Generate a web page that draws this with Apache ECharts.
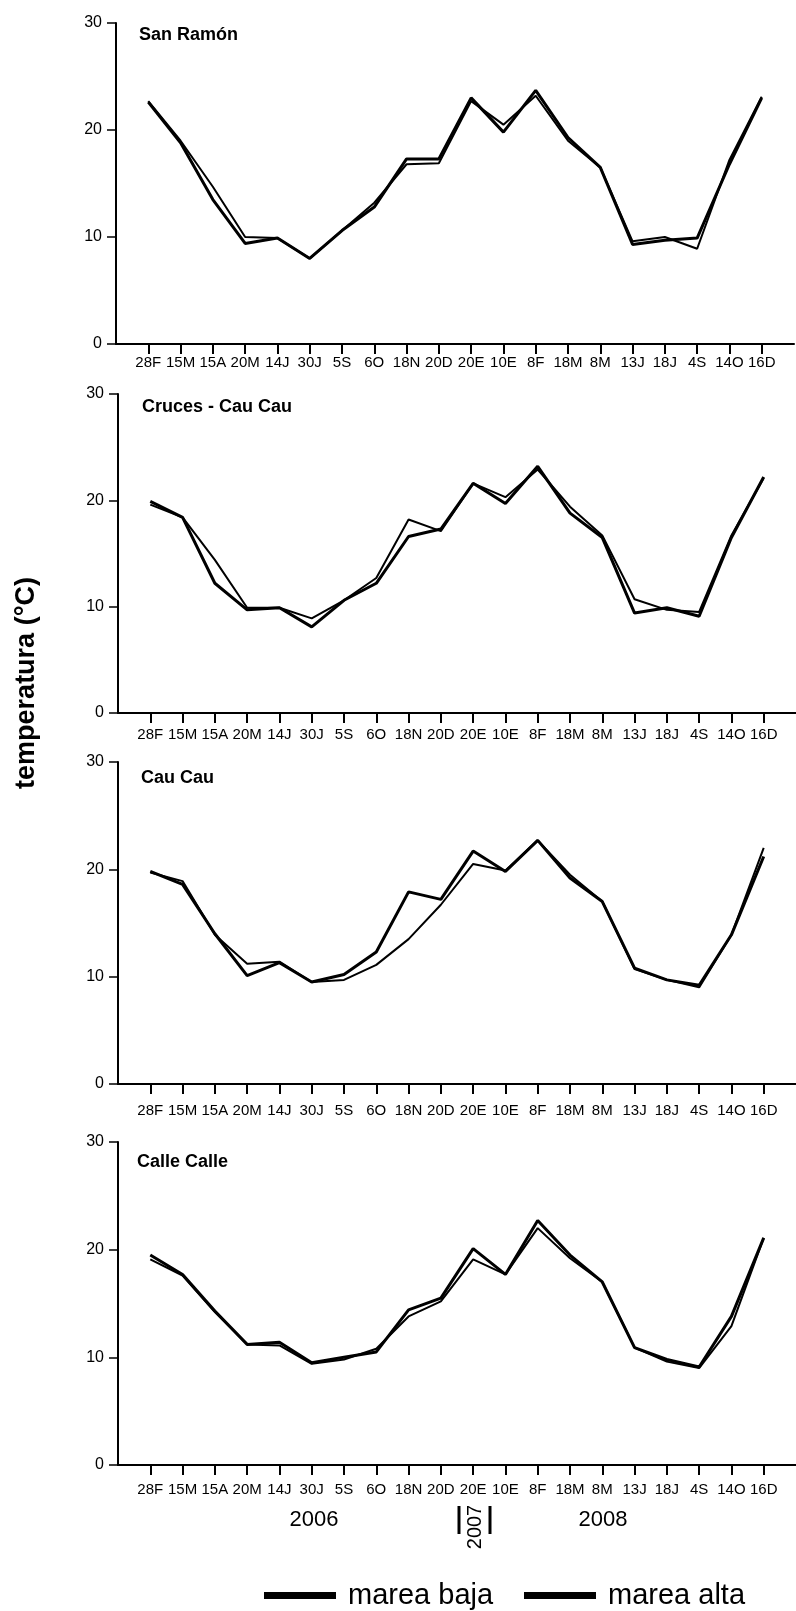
<!DOCTYPE html>
<html>
<head>
<meta charset="utf-8">
<script src="https://cdn.jsdelivr.net/npm/echarts@6/dist/echarts.min.js"></script>
<style>
html,body{margin:0;padding:0;background:#fff;}
#chart{width:796px;height:1611px;}
</style>
</head>
<body>
<div id="chart"></div>
<script>
// ---- data ----
const categories = ['28F','15M','15A','20M','14J','30J','5S','6O','18N','20D','20E','10E','8F','18M','8M','13J','18J','4S','14O','16D'];
const panelTitles = ['San Ramón','Cruces - Cau Cau','Cau Cau','Calle Calle'];
const seriesNames = ['marea baja','marea alta'];
const yearLabels = ['2006','2007','2008'];
const yTickLabels = [0,10,20,30];
const axisTitle = 'temperatura (°C)';

const sanRamonBaja = [22.6,18.8,13.5,9.4,9.9,8.0,10.6,12.8,17.3,17.3,23.0,19.8,23.7,19.3,16.5,9.3,9.7,9.9,16.8,23.0];
const sanRamonAlta = [22.7,19.0,14.7,10.0,9.9,8.0,10.6,13.2,16.8,16.9,22.7,20.5,23.2,19.0,16.5,9.6,10.0,8.9,17.2,23.1];

const crucesBaja = [19.9,18.4,12.2,9.7,9.9,8.1,10.6,12.2,16.6,17.3,21.6,19.7,23.2,18.8,16.5,9.4,9.9,9.1,16.5,22.2];
const crucesAlta = [19.6,18.4,14.4,9.9,9.9,8.9,10.6,12.7,18.2,17.1,21.6,20.3,22.9,19.4,16.7,10.7,9.7,9.5,16.7,22.1];

const cauCauBaja = [19.8,18.6,14.0,10.1,11.3,9.5,10.2,12.3,17.9,17.2,21.7,19.8,22.7,19.2,17.0,10.8,9.7,9.2,13.9,21.2];
const cauCauAlta = [19.7,18.9,13.9,11.2,11.4,9.5,9.7,11.1,13.5,16.7,20.5,19.9,22.7,19.5,17.0,10.7,9.7,9.0,13.9,22.0];

const calleBaja = [19.5,17.7,14.3,11.2,11.4,9.5,10.0,10.5,14.4,15.5,20.1,17.7,22.7,19.5,17.0,10.9,9.8,9.1,13.8,21.1];
const calleAlta = [19.1,17.6,14.2,11.2,11.1,9.4,9.8,10.8,13.8,15.2,19.1,17.7,22.0,19.2,17.0,10.9,9.6,9.0,12.9,21.1];

const panels = [
  [sanRamonBaja, sanRamonAlta],
  [crucesBaja, crucesAlta],
  [cauCauBaja, cauCauAlta],
  [calleBaja, calleAlta]
];

// ---- layout ----
const FONT = '"Liberation Sans", Arial, sans-serif';
const grids = [
  {left:116, top:23,   width:678, height:321},
  {left:118, top:394,  width:702, height:319},
  {left:118, top:762,  width:702, height:322},
  {left:118, top:1142, width:702, height:323}
];
const labelMargins = [11, 14, 19, 17];
const titlePos = [[139,26],[142,398],[141,769],[137,1153]];
const idx = categories.map((c,i)=>i);

const xAxes = grids.map((g,i)=>({
  type:'value', gridIndex:i, min:-1, max:categories.length, interval:1,
  splitLine:{show:false},
  axisLine:{show:true, onZero:false, lineStyle:{color:'#000', width:2}},
  axisTick:{show:true, customValues:idx, length:10, lineStyle:{color:'#000', width:2}},
  axisLabel:{show:true, customValues:idx, formatter:(v)=>categories[v] ?? '', color:'#000',
             fontSize:15, fontFamily:FONT, margin:labelMargins[i]}
}));
const yAxes = grids.map((g,i)=>({
  type:'value', gridIndex:i, min:yTickLabels[0], max:yTickLabels[yTickLabels.length-1], interval:10,
  splitLine:{show:false},
  axisLine:{show:true, onZero:false, lineStyle:{color:'#000', width:2}},
  axisTick:{show:true, length:9, lineStyle:{color:'#000', width:1.5}},
  axisLabel:{color:'#000', fontSize:16, fontFamily:FONT, margin:14}
}));

const series = [];
panels.forEach((pair,i)=>{
  pair.forEach((vals,k)=>{
    series.push({
      name: seriesNames[k], type:'line', xAxisIndex:i, yAxisIndex:i,
      data: vals.map((v,j)=>[j,v]),
      symbol:'none', silent:true,
      lineStyle:{color:'#000', width: k===0 ? 3 : 2},
      itemStyle:{color:'#000'}
    });
  });
});

const titles = panelTitles.map((t,i)=>({
  text:t, left:titlePos[i][0], top:titlePos[i][1], padding:0,
  textStyle:{fontSize:18, fontWeight:'bold', color:'#000', fontFamily:FONT}
}));

const txt = (text, x, y, font, rot) => ({
  type:'text', x:x, y:y, rotation: rot || 0,
  style:{text:text, font:font, fill:'#000', textAlign:'center', textVerticalAlign:'middle',
         align:'center', verticalAlign:'middle'}
});

const legendBase = {
  top:1581, padding:0, icon:'rect', itemWidth:72, itemHeight:7,
  textStyle:{fontSize:29, color:'#000', fontFamily:FONT, padding:[0,0,0,7]}
};

const option = {
  animation:false,
  backgroundColor:'#fff',
  title: titles,
  grid: grids,
  xAxis: xAxes,
  yAxis: yAxes,
  legend:[
    Object.assign({data:[seriesNames[0]], left:264}, legendBase),
    Object.assign({data:[seriesNames[1]], left:524}, legendBase)
  ],
  series: series,
  graphic:[
    txt(axisTitle, 27, 683, 'bold 27px ' + FONT, Math.PI/2),
    txt(yearLabels[0], 314, 1520, '22px ' + FONT),
    txt(yearLabels[1], 475, 1527, '20px ' + FONT, Math.PI/2),
    txt(yearLabels[2], 603, 1520, '22px ' + FONT),
    {type:'line', shape:{x1:459,y1:1506,x2:459,y2:1534}, style:{stroke:'#000', lineWidth:3}},
    {type:'line', shape:{x1:490,y1:1506,x2:490,y2:1534}, style:{stroke:'#000', lineWidth:3}}
  ]
};

const chart = echarts.init(document.getElementById('chart'), null, {renderer:'canvas'});
chart.setOption(option);
</script>
</body>
</html>
